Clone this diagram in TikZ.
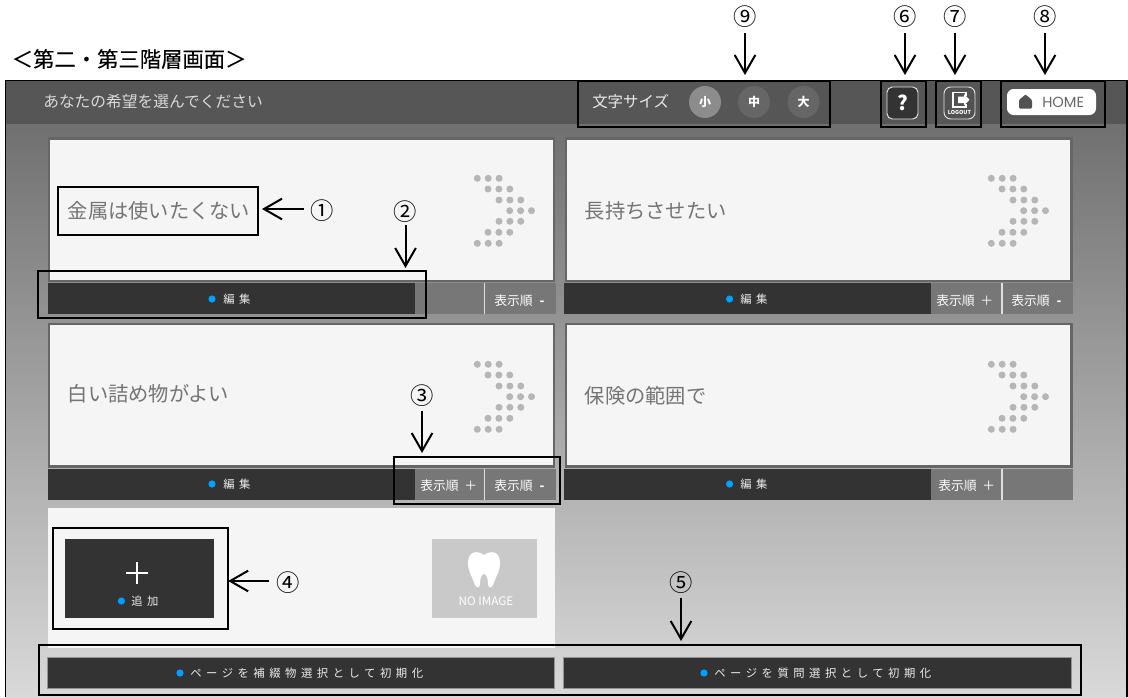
\documentclass[tikz,border=0pt]{standalone}
\usepackage{fontspec}
\setmainfont{Noto Sans CJK JP}
\newfontfamily\spaced[LetterSpace=40]{Noto Sans CJK JP}
\newfontfamily\headfont[FakeBold=0.25]{Noto Sans CJK JP}
\newfontfamily\homefont{Poppins}
\usetikzlibrary{arrows.meta,fit,shapes.geometric}
\definecolor{panel}{HTML}{F5F5F5}
\definecolor{darkbar}{HTML}{333333}
\definecolor{greybar}{HTML}{777777}
\definecolor{cardedge}{HTML}{666666}
\definecolor{headerbg}{HTML}{565656}
\definecolor{dotgrey}{HTML}{B6B6B6}
\definecolor{titlegrey}{HTML}{747474}
\definecolor{bluedot}{HTML}{00A0FF}
\tikzset{
  px/.style={rectangle,inner sep=0pt,outer sep=0pt},
  mark box/.style={px,draw=black,line width=1.5pt},
  card/.style={px,fill=panel,draw=cardedge,line width=1.9pt},
  dark bar/.style={px,fill=darkbar},
  grey bar/.style={px,fill=greybar,draw=none},
  reset bar/.style={px,fill=darkbar,draw=gray!85,line width=.7pt},
  card title/.style={anchor=west,inner sep=0pt,text=titlegrey,font=\fontsize{15.2}{15}\selectfont},
  small white/.style={inner sep=0pt,text=white,font=\fontsize{9.6}{10}\selectfont},
  wide text/.style={inner sep=0pt,text=white!92!black,anchor=west,font=\fontsize{8.5}{9}\selectfont\spaced},
  num/.style={inner sep=0pt,text=black,font=\fontsize{17.5}{18}\selectfont},
  callout/.style={draw=black,line width=1.5pt,-{Straight Barb[length=13.5pt,width=15.5pt,line width=1.5pt]}},
  blue dot/.style={circle,fill=bluedot,minimum size=5.4pt,inner sep=0pt},
  size button/.style={circle,minimum size=24pt,inner sep=0pt,text=white,font=\fontsize{9}{9}\selectfont\bfseries},
  sep line/.style={draw=white!75!gray,line width=1pt}
}
% name, x1, y1, x2, y2, style
\newcommand{\pxbox}[6]{%
  \coordinate (#1-a) at (#2,#3);
  \coordinate (#1-b) at (#4,#5);
  \node[#6,fit=(#1-a)(#1-b)] (#1) {};
}
% chevron of dots, dx, dy from the first card
\newcommand{\chevron}[2]{%
  \begin{scope}[shift={(#1,#2)}]
    \foreach \ry/\rx in {178.3/477.3,189/488,200/499,210.7/509.7,221.3/499,232.3/488,243.3/477.3}
      \foreach \k in {0,1,2}
        \fill[dotgrey] ({\rx+\k*10.9},\ry) circle (3.5);
  \end{scope}
}
% two-part button bar: name, left, top, dark right, separator x, right
\newcommand{\cardbar}[6]{%
  \pxbox{#1g}{#2}{#3}{#6}{#3+31}{grey bar}
  \pxbox{#1d}{#2}{#3}{#4}{#3+31}{dark bar}
  \path[sep line] (#5,#3) -- (#5,#3+31);
}
\begin{document}
\begin{tikzpicture}[x=0.75pt,y=-0.75pt]
\useasboundingbox (0,0) rectangle (1128,697);
\fill[white] (0,0) rectangle (1128,697);

% screen
\shade[top color=black!56,bottom color=black!15] (5.5,124) rectangle (1127,697);
\pxbox{header}{5.5}{80}{1127}{124}{px,fill=headerbg}
\draw[black,line width=1.1pt] (5.5,697) -- (5.5,80.5) -- (1127,80.5) -- (1127,697);

\node[anchor=west,inner sep=0pt,font=\fontsize{16}{16}\selectfont\headfont] (heading) at (11.5,59) {＜第二・第三階層画面＞};
\node[anchor=west,inner sep=0pt,text=white!85!black,font=\fontsize{11.8}{12}\selectfont] (prompt) at (43,102) {あなたの希望を選んでください};

% font size selector
\node[anchor=west,inner sep=0pt,text=white!92!black,font=\fontsize{11.6}{12}\selectfont] (sizelabel) at (592,102) {文字サイズ};
\node[size button,fill=black!45] (small) at (705,102) {小};
\node[size button,fill=black!60] (mid) at (754,102) {中};
\node[size button,fill=black!60] (large) at (803.5,102) {大};

% help
\pxbox{help}{887}{87}{918}{119}{px,fill=darkbar,draw=white!80!gray,line width=.7pt,rounded corners=4pt}
\node[inner sep=0pt,text=white,font=\fontsize{15}{15}\selectfont\bfseries] (helpq) at (902.5,103) {?};

% logout
\pxbox{logout}{944}{87}{975}{119}{px,fill=black!68,draw=white!80!gray,line width=.7pt,rounded corners=5pt}
\draw[white,line width=1.4pt] (966,96) -- (966,92.5) -- (953,92.5) -- (953,107) -- (966,107) -- (966,103.5);
\fill[white] (958,96.5) -- (964,96.5) -- (964,94) -- (969.5,99.8) -- (964,105.5) -- (964,103) -- (958,103) -- cycle;
\node[inner sep=0pt,text=white,font=\fontsize{4.1}{5}\selectfont\bfseries] (logouttext) at (959.5,112) {LOGOUT};

% home
\pxbox{home}{1007}{89}{1096}{115}{px,fill=white,rounded corners=5pt}
\fill[black!68,rounded corners=.8pt] (1019,108.5) -- (1019,100) -- (1025.5,94.5) -- (1032,100) -- (1032,108.5) -- cycle;
\node[anchor=west,inner sep=0pt,text=black!60,font=\fontsize{11}{11}\selectfont\homefont] (hometext) at (1042,102.5) {HOME};

% cards
\pxbox{card1}{49}{138.5}{554}{281}{card}
\pxbox{card2}{566}{138.5}{1071.5}{281}{card}
\pxbox{card3}{49}{324}{554}{466.5}{card}
\pxbox{card4}{566}{324}{1071.5}{466.5}{card}
\chevron{0}{0}
\chevron{514}{0}
\chevron{0}{186}
\chevron{514}{186}
\node[card title] (t1) at (67.5,211) {金属は使いたくない};
\node[card title] (t2) at (584.5,211) {長持ちさせたい};
\node[card title] (t3) at (67.5,394) {白い詰め物がよい};
\node[card title] (t4) at (584.5,396) {保険の範囲で};

% bars
\cardbar{b1}{47.5}{283}{414.5}{484.7}{555.5}
\cardbar{b2}{564}{283}{931}{1002}{1072.5}
\cardbar{b3}{47.5}{469}{414.5}{484.7}{555.5}
\cardbar{b4}{564}{469}{931}{1002}{1072.5}

\node[blue dot] (e1d) at (212,299) {};
\node[wide text] (e1) at (223,299) {編集};
\node[blue dot] (e2d) at (729.6,299) {};
\node[wide text] (e2) at (740,299) {編集};
\node[blue dot] (e3d) at (212,484) {};
\node[wide text] (e3) at (223,484) {編集};
\node[blue dot] (e4d) at (729.6,484) {};
\node[wide text] (e4) at (740,484) {編集};

\node[small white,anchor=west] (o1m) at (494,301) {表示順\hspace{.55em}\textbf{-}};
\node[small white,anchor=west] (o2p) at (936,301) {表示順\hspace{.45em}＋};
\node[small white,anchor=west] (o2m) at (1011,301) {表示順\hspace{.55em}\textbf{-}};
\node[small white,anchor=west] (o3p) at (420,486) {表示順\hspace{.45em}＋};
\node[small white,anchor=west] (o3m) at (494,486) {表示順\hspace{.55em}\textbf{-}};
\node[small white,anchor=west] (o4p) at (938,486) {表示順\hspace{.45em}＋};

% add panel
\pxbox{addpanel}{47.5}{508}{554.5}{648}{px,fill=panel}
\pxbox{addbtn}{64.5}{539}{214}{618}{dark bar}
\draw[white,line width=1.2pt] (126,573) -- (148,573) (137,562) -- (137,584);
\node[blue dot] (addd) at (121.4,601) {};
\node[wide text] (addt) at (131,601) {追加};
\pxbox{noimg}{432}{539}{537}{618}{px,fill=black!21}
\fill[white] (484,555) .. controls (477,550) and (468,551) .. (468,563)
  .. controls (468,572) and (473,578) .. (475,585) .. controls (477,589) and (480,588) .. (480,583)
  .. controls (480,578) and (482,574) .. (484,574) .. controls (486,574) and (488,578) .. (488,583)
  .. controls (488,588) and (491,589) .. (493,585) .. controls (495,578) and (500,572) .. (500,563)
  .. controls (500,551) and (491,550) .. (484,555) -- cycle;
\node[inner sep=0pt,text=white,font=\fontsize{8.8}{9}\selectfont] (noimgt) at (486,601) {NO IMAGE};

% reset buttons
\pxbox{reset1}{47.5}{657.5}{554.5}{688.5}{reset bar}
\pxbox{reset2}{563.6}{657.5}{1071}{688.5}{reset bar}
\node[blue dot] (r1d) at (180,673) {};
\node[wide text] (r1) at (190,673) {ページを補綴物選択として初期化};
\node[blue dot] (r2d) at (704,673) {};
\node[wide text] (r2) at (714,673) {ページを質問選択として初期化};

% marking boxes
\pxbox{m1}{58}{187}{258}{235}{mark box}
\pxbox{m2}{38}{271}{426}{318}{mark box}
\pxbox{m3}{394}{457}{559.5}{504}{mark box}
\pxbox{m4}{53}{528}{227.5}{628.5}{mark box}
\pxbox{m5}{38.5}{644.5}{1081}{695}{mark box}
\pxbox{m6}{880.5}{80.5}{926}{127}{mark box}
\pxbox{m7}{935.5}{80.5}{981}{127}{mark box}
\pxbox{m8}{1001}{80.5}{1104.5}{127}{mark box}
\pxbox{m9}{577.5}{80.5}{830}{127}{mark box}

% number labels
\node[num] (n1) at (322,211) {①};
\node[num] (n2) at (405.5,212) {②};
\node[num] (n3) at (422,396) {③};
\node[num] (n4) at (288,582.5) {④};
\node[num] (n5) at (681,582.5) {⑤};
\node[num] (n6) at (905,17) {⑥};
\node[num] (n7) at (955,17) {⑦};
\node[num] (n8) at (1045,17) {⑧};
\node[num] (n9) at (745,17) {⑨};

% callouts
\coordinate (a1) at (304,209);
\coordinate (a4) at (269,581);
\draw[callout,shorten >=3pt] (a1) -- (m1.east |- a1);
\draw[callout,shorten >=.5pt] (a4) -- (m4.east |- a4);
\foreach \n/\m/\ys/\ye in {2/m2/225/268,3/m3/411/453,5/m5/598/641,6/m6/33/75,7/m7/33/75,8/m8/33/75,9/m9/33/75}{
  \coordinate (s\n) at (n\n |- 0,\ys);
  \coordinate (e\n) at (n\n |- 0,\ye);
  \draw[callout] (s\n) -- (e\n);
}
\end{tikzpicture}
\end{document}
